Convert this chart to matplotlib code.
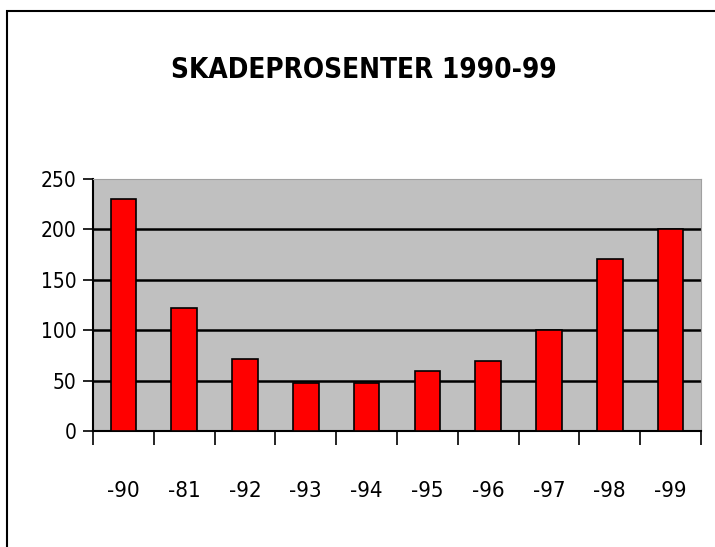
import matplotlib.pyplot as plt
import matplotlib.patches as mpatches
import numpy as np

# data
years = ['-90', '-81', '-92', '-93', '-94', '-95', '-96', '-97', '-98', '-99']
values = [230, 122, 71, 48, 48, 60, 69, 100, 171, 200]
yticks = [0, 50, 100, 150, 200, 250]

plt.rcParams['font.family'] = ['DejaVu Sans']
plt.rcParams['font.stretch'] = 'condensed'

fig = plt.figure(figsize=(7.15, 5.47), dpi=100)
fig.patch.set_facecolor('white')

# outer chart frame (top and left edges visible)
frame = mpatches.Rectangle((7 / 715, -0.1), 1.2, 1 - 11 / 547 + 0.1,
                           transform=fig.transFigure, fill=False,
                           edgecolor='black', linewidth=1.5)
fig.patches.append(frame)

ax = fig.add_axes([93 / 715, 1 - 431 / 547, 608 / 715, 252 / 547])
ax.set_facecolor('#c0c0c0')

x = np.arange(len(years))
ax.bar(x, values, width=0.42, color='#ff0000', edgecolor='black',
       linewidth=1.2, zorder=3)

for v in yticks[1:-1]:
    ax.axhline(v, color='black', linewidth=1.8, zorder=2)

ax.set_ylim(0, 250)
ax.set_xlim(-0.5, len(years) - 0.5)
ax.set_yticks(yticks)
ax.set_yticklabels([str(v) for v in yticks], fontsize=15)

# labels in the middle, tick marks on category boundaries
ax.set_xticks(x)
ax.set_xticklabels(years, fontsize=16)
ax.tick_params(axis='x', which='major', length=0, pad=36)
ax.set_xticks(np.arange(-0.5, len(years)), minor=True)
ax.tick_params(axis='x', which='minor', length=10, width=1.2, direction='out')
ax.tick_params(axis='y', length=7, width=1.2, direction='out', pad=5)

ax.spines['left'].set_linewidth(1.5)
ax.spines['bottom'].set_linewidth(1.5)
ax.spines['top'].set_color('#a0a0a0')
ax.spines['right'].set_color('#a0a0a0')

fig.text(364 / 715, 1 - 70 / 547, 'SKADEPROSENTER 1990-99', ha='center',
         va='center', fontsize=20, fontweight='bold')

plt.savefig('out.png', dpi=100)
